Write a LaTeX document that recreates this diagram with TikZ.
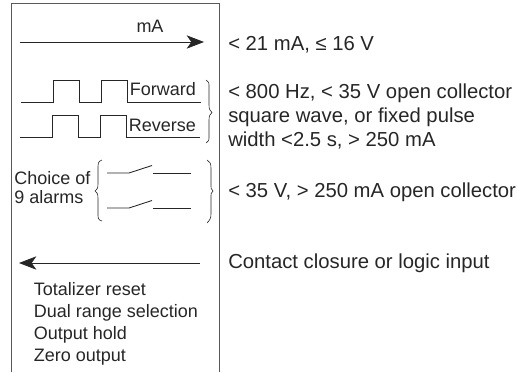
\documentclass[tikz,border=0pt]{standalone}
\usepackage{fontspec}
\setmainfont{Liberation Sans}
\usetikzlibrary{arrows.meta}
\definecolor{ink}{gray}{0.15}
\tikzset{
 x=0.75pt,y=-0.75pt,
 txt/.style={font=\fontsize{13.5pt}{16pt}\selectfont,text=ink,inner sep=0pt,anchor=base west},
 rtxt/.style={txt,font=\fontsize{15.2pt}{18pt}\selectfont},
 ln/.style={draw=ink,line width=0.65pt},
 frame/.style={draw=black!65,line width=0.75pt},
 brc/.style={draw=ink,line width=0.45pt},
 arr/.style={ln,-{Stealth[length=13pt,width=10pt,inset=3.5pt]}}
}
\begin{document}
\begin{tikzpicture}
\useasboundingbox (0,0) rectangle (518,372);
\coordinate (tr) at (11,372); \coordinate (tl) at (11,3); \coordinate (rt) at (219.5,3); \coordinate (rb) at (219.5,372);
\draw[frame] (tr) -- (tl) -- (rt) -- (rb);
% mA
\node[txt,anchor=base] (ma) at (150,32) {mA};
\coordinate (a1) at (20,42); \coordinate (a2) at (204,42);
\draw[arr] (a1) -- (a2);
% pulses
\draw[ln] (21,102) -- (53.5,102) -- (53.5,80) -- (79.5,80) -- (79.5,102) -- (101.5,102) -- (101.5,80) -- (127.5,80) -- (127.5,102) -- (201,102);
\draw[ln] (20,137.5) -- (52.5,137.5) -- (52.5,115) -- (78.5,115) -- (78.5,137.5) -- (100.5,137.5) -- (100.5,115) -- (126.5,115) -- (126.5,137.5) -- (200,137.5);
\node[txt] (fw) at (129.5,95) {Forward};
\node[txt] (rv) at (128.5,131) {Reverse};
% brace right 1
\draw[brc] (206,80) .. controls (209,81) and (209,83) .. (209,87) -- (209,105) .. controls (209,109) and (210,111) .. (212,112.5) .. controls (210,114) and (209,116) .. (209,120) -- (209,136) .. controls (209,140) and (209,142) .. (206,143);
% left text
\node[txt] (ch) at (14,184) {Choice of};
\node[txt] (al) at (14,203) {9 alarms};
% left brace
\draw[brc] (102,160) .. controls (98,161) and (98,164) .. (98,168) -- (98,184) .. controls (98,188) and (97,190) .. (95,191) .. controls (97,192) and (98,194) .. (98,198) -- (98,214) .. controls (98,218) and (98,220) .. (102,221);
% switches
\draw[ln] (107,173) -- (129,173) -- (152,165.5);
\draw[ln] (153,173) -- (191,173);
\draw[ln] (107,208) -- (129,208) -- (152,200.5);
\draw[ln] (153,208) -- (191,208);
% brace right 2
\draw[brc] (207,160) .. controls (210,161) and (211,164) .. (211,168) -- (211,184) .. controls (211,188) and (211,190) .. (213,191) .. controls (211,192) and (211,194) .. (211,198) -- (211,214) .. controls (211,218) and (210,220) .. (207,223);
% input
\coordinate (b1) at (200,263); \coordinate (b2) at (19,263);
\draw[arr] (b1) -- (b2);
\node[txt] (t1) at (33.5,295.5) {Totalizer reset};
\node[txt] (t2) at (33.5,317.5) {Dual range selection};
\node[txt] (t3) at (33.5,339.5) {Output hold};
\node[txt] (t4) at (33.5,361) {Zero output};
% right text
\node[rtxt] (r1) at (228,50) {< 21 mA, ≤ 16 V};
\node[rtxt] (r2) at (228,98) {< 800 Hz, < 35 V open collector};
\node[rtxt] (r3) at (228,122) {square wave, or fixed pulse};
\node[rtxt] (r4) at (228,146) {width <2.5 s, > 250 mA};
\node[rtxt] (r5) at (228,197) {< 35 V, > 250 mA open collector};
\node[rtxt] (r6) at (228,268) {Contact closure or logic input};
\end{tikzpicture}
\end{document}
